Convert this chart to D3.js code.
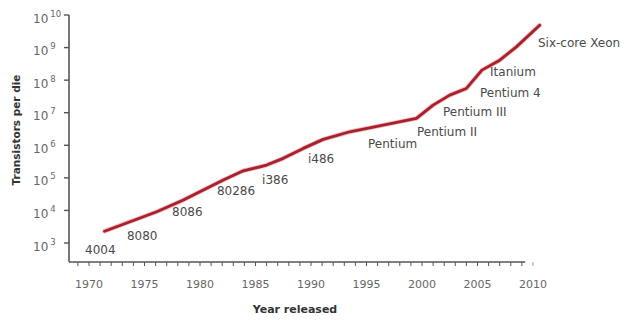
<!DOCTYPE html>
<html>
<head>
<meta charset="utf-8">
<script src="https://cdn.jsdelivr.net/npm/d3@7"></script>
<style>
  html, body { margin: 0; padding: 0; background: #fff; }
  svg { display: block; }
  text { font-family: "DejaVu Sans", Verdana, sans-serif; }
</style>
</head>
<body>
<svg id="chart" width="626" height="320"></svg>
<script>
// ---- data ----
const lineYears  = [1971.4, 1973.7, 1976.1, 1978.5, 1980.3, 1982.1, 1983.9, 1985.4, 1986.0, 1987.5, 1989.3, 1991.1, 1993.5, 1996.5, 1999.5, 2001.0, 2002.5, 2004.0, 2005.4, 2007.0, 2008.5, 2010.6];
const lineValues = [2300, 4500, 9100, 20800, 42300, 85700, 165000, 219000, 247000, 397000, 803000, 1.52e6, 2.6e6, 4.17e6, 6.7e6, 1.71e7, 3.47e7, 5.56e7, 2.03e8, 4.1e8, 1.05e9, 4.86e9];

const chipNames  = ["4004", "8080", "8086", "80286", "i386", "i486", "Pentium", "Pentium II", "Pentium III", "Pentium 4", "Itanium", "Six-core Xeon"];
const labelYears = [1969.64, 1973.42, 1977.48, 1981.53, 1985.59, 1989.73, 1995.14, 1999.55, 2001.89, 2005.23, 2006.13, 2010.45];
const labelExps  = [2.663, 3.092, 3.828, 4.472, 4.810, 5.454, 5.914, 6.282, 6.896, 7.479, 8.123, 9.012];

const yearTicks  = [1970, 1975, 1980, 1985, 1990, 1995, 2000, 2005, 2010];
const yExponents = [3, 4, 5, 6, 7, 8, 9, 10];

// ---- layout ----
const svg = d3.select("#chart");
const axisX = 69, axisY = 262;
const x = d3.scaleLinear().domain([1970, 2010]).range([89, 533]);
const y = d3.scaleLog().domain([1e3, 1e10]).range([243, 15]);
const axisColor = "#555";
const textColor = "#4a4a4a";

// y axis
svg.append("line").attr("x1", axisX).attr("x2", axisX).attr("y1", y(1e10)).attr("y2", axisY)
  .attr("stroke", axisColor).attr("stroke-width", 1.6);
const yt = svg.append("g").selectAll("g").data(yExponents).join("g")
  .attr("transform", d => `translate(0,${y(Math.pow(10, d))})`);
yt.append("line").attr("x1", axisX - 5).attr("x2", axisX).attr("stroke", axisColor).attr("stroke-width", 1.4);
const ytxt = yt.append("text").attr("x", 33).attr("y", 7.5).attr("fill", "#666").attr("font-size", 12);
ytxt.append("tspan").text("10");
ytxt.append("tspan").attr("dx", 2).attr("dy", -6).attr("font-size", 8.5).text(d => d);

// x axis
const xEnd = x(2009.3);
svg.append("line").attr("x1", axisX).attr("x2", xEnd).attr("y1", axisY).attr("y2", axisY)
  .attr("stroke", axisColor).attr("stroke-width", 1.6);
const minorYears = d3.range(1969, 2011);
svg.append("g").selectAll("line").data(minorYears).join("line")
  .attr("x1", d => x(d)).attr("x2", d => x(d))
  .attr("y1", axisY).attr("y2", axisY + 4)
  .attr("stroke", d => d === 2010 ? "#999" : axisColor).attr("stroke-width", 1);
svg.append("g").selectAll("text").data(yearTicks).join("text")
  .attr("x", d => x(d)).attr("y", 288).attr("text-anchor", "middle")
  .attr("fill", "#666").attr("font-size", 11).text(d => d);

// axis titles
svg.append("text").attr("transform", "translate(20,130) rotate(-90)")
  .attr("text-anchor", "middle").attr("font-weight", "bold").attr("font-size", 10.5)
  .attr("fill", "#333").text("Transistors per die");
svg.append("text").attr("x", 295).attr("y", 313).attr("text-anchor", "middle")
  .attr("font-weight", "bold").attr("font-size", 11).attr("fill", "#333").text("Year released");

// line
const pts = lineYears.map((yr, i) => [yr, lineValues[i]]);
const line = d3.line().x(d => x(d[0])).y(d => y(d[1])).curve(d3.curveLinear);
svg.append("path").datum(pts).attr("d", line).attr("fill", "none")
  .attr("stroke", "#f0b8bc").attr("stroke-width", 4.5).attr("stroke-linejoin", "round").attr("stroke-linecap", "round");
svg.append("path").datum(pts).attr("d", line).attr("fill", "none")
  .attr("stroke", "#a8202b").attr("stroke-width", 2.8).attr("stroke-linejoin", "round").attr("stroke-linecap", "round");

// chip labels
svg.append("g").selectAll("text").data(chipNames).join("text")
  .attr("x", (d, i) => x(labelYears[i]))
  .attr("y", (d, i) => y(Math.pow(10, labelExps[i])))
  .attr("fill", textColor).attr("font-size", 12).text(d => d);
</script>
</body>
</html>
